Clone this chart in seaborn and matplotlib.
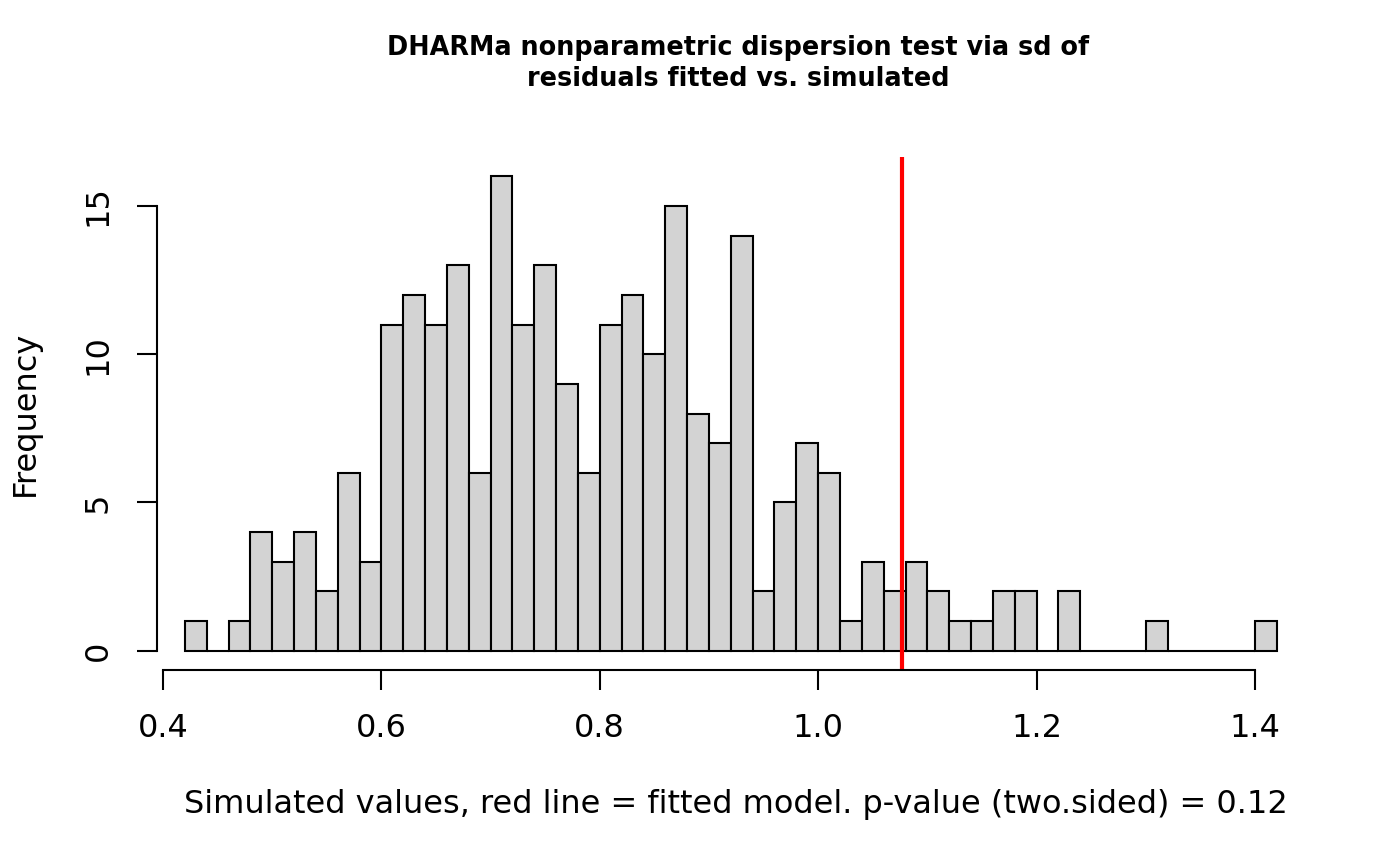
import numpy as np
import pandas as pd
import matplotlib
matplotlib.use("Agg")
import matplotlib.pyplot as plt
import seaborn as sns

# histogram of simulated dispersion values (R hist, breaks every 0.02)
bin_start = 0.42
bin_end = 1.42
counts = [1, 0, 1, 4, 3, 4, 2, 6, 3, 11,
          12, 11, 13, 6, 16, 11, 13, 9, 6, 11,
          12, 10, 15, 8, 7, 14, 2, 5, 7, 6,
          1, 3, 2, 3, 2, 1, 1, 2, 2, 0,
          2, 0, 0, 0, 1, 0, 0, 0, 0, 1]
observed = 1.077
x_ticks = [0.4, 0.6, 0.8, 1.0, 1.2, 1.4]
x_tick_labels = ["0.4", "0.6", "0.8", "1.0", "1.2", "1.4"]
y_ticks = [0, 5, 10, 15]

title = "DHARMa nonparametric dispersion test via sd of\nresiduals fitted vs. simulated"
x_label = "Simulated values, red line = fitted model. p-value (two.sided) = 0.12"
y_label = "Frequency"

edges = np.linspace(bin_start, bin_end, len(counts) + 1)
df = pd.DataFrame({"value": (edges[:-1] + edges[1:]) / 2, "count": counts})

sns.set_theme(style="white")
plt.rcParams["font.family"] = ["DejaVu Sans"]
plt.rcParams["text.color"] = "black"
plt.rcParams["axes.labelcolor"] = "black"

fig = plt.figure(figsize=(14, 8.66), dpi=100)
ax = fig.add_axes([157 / 1400, 1 - 669.7 / 866, 1158 / 1400, 512.3 / 866])

sns.histplot(data=df, x="value", weights="count", bins=list(edges), ax=ax,
             color="#D3D3D3", edgecolor="black", linewidth=1.5, alpha=1)
ax.axvline(observed, color="red", linewidth=3)

ax.set_xlim(0.3945, 1.455)
ax.set_ylim(-0.64, 16.64)

for side in ["top", "right"]:
    ax.spines[side].set_visible(False)
ax.spines["left"].set_bounds(0, 15)
ax.spines["bottom"].set_bounds(0.4, 1.4)
for side in ["left", "bottom"]:
    ax.spines[side].set_linewidth(1.5)
    ax.spines[side].set_color("black")

ax.set_xticks(x_ticks)
ax.set_xticklabels(x_tick_labels)
ax.set_yticks(y_ticks)
ax.set_yticklabels([str(v) for v in y_ticks], rotation=90, va="center")
ax.tick_params(axis="both", direction="out", length=14.4, width=1.5,
               color="black", labelsize=23, labelcolor="black", pad=17)
ax.tick_params(axis="x", bottom=True)
ax.tick_params(axis="y", left=True)

ax.set_xlabel(x_label, fontsize=23)
ax.xaxis.label.set_va("center")
ax.xaxis.set_label_coords(0.5, -0.264)
ax.set_ylabel(y_label, fontsize=23)
ax.yaxis.label.set_va("center")
ax.yaxis.set_label_coords(-0.114, 0.5)

fig.text(738 / 1400, 1 - 63.5 / 866, title, ha="center", va="center",
         fontsize=18.4, fontweight="bold", linespacing=1.22)

fig.savefig("out.png", dpi=100, facecolor="white")
